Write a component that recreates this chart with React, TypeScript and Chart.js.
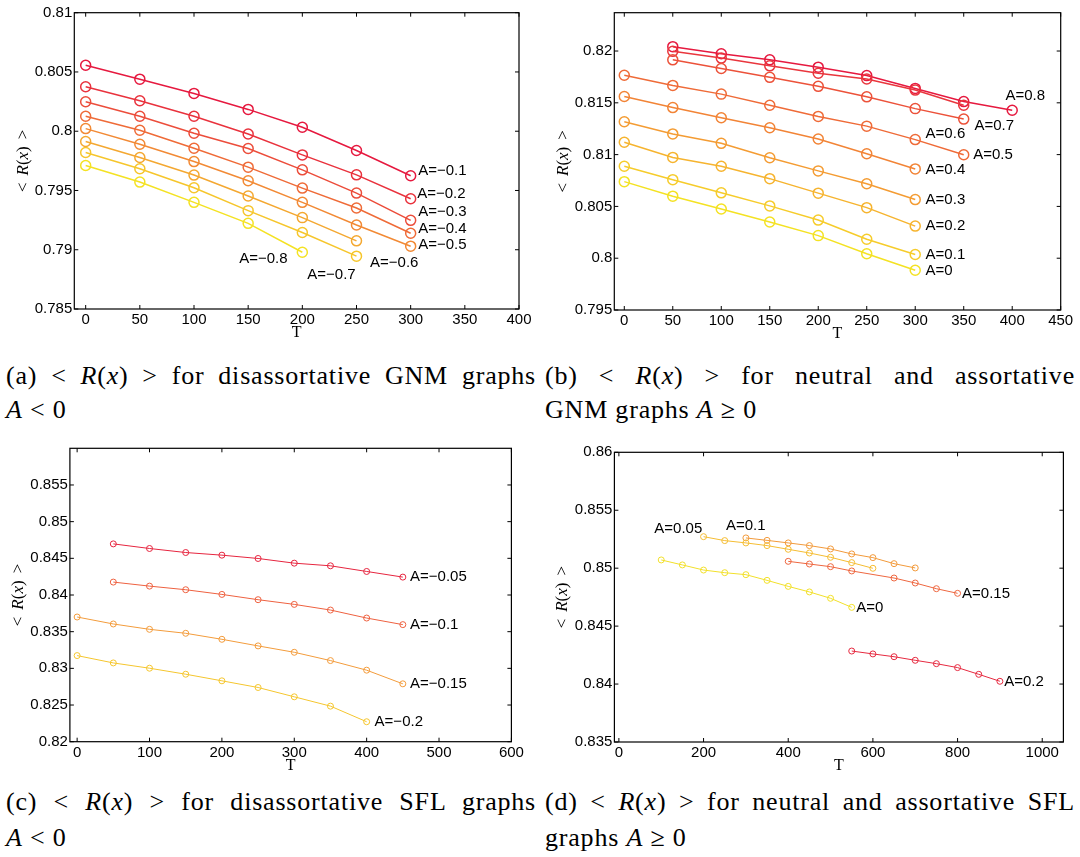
import React, { useEffect, useRef } from "react";
import { Chart, registerables } from "chart.js";

Chart.register(...registerables);

// ---------- (a) disassortative GNM graphs, A < 0 ----------
const gnmNegT7 = [0, 50, 100, 150, 200, 250, 300];
const gnmNegT6 = [0, 50, 100, 150, 200, 250];
const gnmNegT5 = [0, 50, 100, 150, 200];
const gnmNegA01 = [0.80557, 0.80439, 0.80319, 0.80184, 0.80033, 0.79837, 0.79624];
const gnmNegA02 = [0.80375, 0.80257, 0.80126, 0.79977, 0.798, 0.79632, 0.7943];
const gnmNegA03 = [0.80249, 0.80126, 0.79983, 0.79854, 0.79674, 0.79478, 0.79248];
const gnmNegA04 = [0.80126, 0.80008, 0.79856, 0.79697, 0.7952, 0.79352, 0.79139];
const gnmNegA05 = [0.80022, 0.7989, 0.79744, 0.79582, 0.794, 0.79209, 0.7903];
const gnmNegA06 = [0.79913, 0.79778, 0.7963, 0.79453, 0.79271, 0.79075];
const gnmNegA07 = [0.7982, 0.79683, 0.79523, 0.7933, 0.79145, 0.78946];
const gnmNegA08 = [0.79711, 0.79571, 0.794, 0.79223, 0.78979];
const gnmNegNoteText = ["A=−0.1", "A=−0.2", "A=−0.3", "A=−0.4", "A=−0.5", "A=−0.6", "A=−0.7", "A=−0.8"];
const gnmNegNoteT = [307, 306, 307, 307, 307, 262.5, 204.6, 141.7];
const gnmNegNoteR = [0.79669, 0.79475, 0.79318, 0.79173, 0.79038, 0.78892, 0.78791, 0.7892];
const gnmNegXTicks = [0, 50, 100, 150, 200, 250, 300, 350, 400];
const gnmNegYTicks = [0.785, 0.79, 0.795, 0.8, 0.805, 0.81];

// ---------- (b) neutral and assortative GNM graphs, A >= 0 ----------
const gnmPosT0 = [0, 50, 100, 150, 200, 250, 300];
const gnmPosT5 = [0, 50, 100, 150, 200, 250, 300, 350];
const gnmPosT67 = [50, 100, 150, 200, 250, 300, 350];
const gnmPosT8 = [50, 100, 150, 200, 250, 300, 350, 400];
const gnmPosA0 = [0.80739, 0.80599, 0.80475, 0.80349, 0.80218, 0.80043, 0.79884];
const gnmPosA1 = [0.80888, 0.80758, 0.80631, 0.80505, 0.80368, 0.80183, 0.80036];
const gnmPosA2 = [0.81119, 0.80973, 0.80888, 0.80768, 0.80628, 0.80488, 0.8031];
const gnmPosA3 = [0.81317, 0.812, 0.81109, 0.8097, 0.80843, 0.80719, 0.80566];
const gnmPosA4 = [0.81561, 0.81454, 0.81356, 0.81259, 0.81151, 0.81008, 0.80862];
const gnmPosA5 = [0.81766, 0.81668, 0.81584, 0.81477, 0.81369, 0.81275, 0.81145, 0.80999];
const gnmPosA6 = [0.81915, 0.81831, 0.81746, 0.81659, 0.81558, 0.81444, 0.81343];
const gnmPosA7 = [0.81997, 0.81932, 0.81857, 0.81785, 0.8173, 0.81623, 0.81477];
const gnmPosA8 = [0.82042, 0.81974, 0.81915, 0.81844, 0.81763, 0.81639, 0.81512, 0.81428];
const gnmPosNoteText = ["A=0.8", "A=0.7", "A=0.6", "A=0.5", "A=0.4", "A=0.3", "A=0.2", "A=0.1", "A=0"];
const gnmPosNoteT = [393, 361, 310.7, 359.7, 310.7, 310.7, 310.7, 310.7, 310.7];
const gnmPosNoteR = [0.81564, 0.81278, 0.81197, 0.80995, 0.80856, 0.80566, 0.8031, 0.80036, 0.7988];
const gnmPosXTicks = [0, 50, 100, 150, 200, 250, 300, 350, 400, 450];
const gnmPosYTicks = [0.795, 0.8, 0.805, 0.81, 0.815, 0.82];

// ---------- (c) disassortative SFL graphs, A < 0 ----------
const sflNegT9 = [50, 100, 150, 200, 250, 300, 350, 400, 450];
const sflNegT10 = [0, 50, 100, 150, 200, 250, 300, 350, 400, 450];
const sflNegT20 = [0, 50, 100, 150, 200, 250, 300, 350, 400];
const sflNegA005 = [0.84697, 0.84634, 0.84579, 0.84543, 0.84498, 0.84434, 0.84398, 0.84321, 0.84244];
const sflNegA010 = [0.84176, 0.84121, 0.84072, 0.84008, 0.83936, 0.83872, 0.83795, 0.83686, 0.83596];
const sflNegA015 = [0.837, 0.83605, 0.83532, 0.83478, 0.83396, 0.83306, 0.83219, 0.83106, 0.82975, 0.82789];
const sflNegA020 = [0.83174, 0.83074, 0.83002, 0.8292, 0.8283, 0.82739, 0.82612, 0.82485, 0.82272];
const sflNegNoteText = ["A=−0.05", "A=−0.1", "A=−0.15", "A=−0.2"];
const sflNegNoteT = [460, 460, 460, 411];
const sflNegNoteR = [0.84244, 0.83596, 0.82789, 0.82272];
const sflNegXTicks = [0, 100, 200, 300, 400, 500, 600];
const sflNegYTicks = [0.82, 0.825, 0.83, 0.835, 0.84, 0.845, 0.85, 0.855];

// ---------- (d) neutral and assortative SFL graphs, A >= 0 ----------
const sflPosT000 = [100, 150, 200, 250, 300, 350, 400, 450, 500, 550];
const sflPosT005 = [200, 250, 300, 350, 400, 450, 500, 550, 600];
const sflPosT010 = [300, 350, 400, 450, 500, 550, 600, 650, 700];
const sflPosT015 = [400, 450, 500, 550, 650, 700, 750, 800];
const sflPosT020 = [550, 600, 650, 700, 750, 800, 850, 900];
const sflPosA000 = [0.85071, 0.85028, 0.84984, 0.84961, 0.84944, 0.84895, 0.84843, 0.84795, 0.8474, 0.84662];
const sflPosA005 = [0.85272, 0.85238, 0.85218, 0.85195, 0.85163, 0.85131, 0.85094, 0.85048, 0.84999];
const sflPosA010 = [0.85261, 0.8524, 0.85218, 0.85195, 0.85166, 0.85123, 0.85091, 0.85039, 0.85002];
const sflPosA015 = [0.85059, 0.85036, 0.85013, 0.84976, 0.84915, 0.84872, 0.84823, 0.84783];
const sflPosA020 = [0.84285, 0.8426, 0.84236, 0.84205, 0.84176, 0.84142, 0.84084, 0.84024];
const sflPosNoteText = ["A=0.05", "A=0.1", "A=0.15", "A=0", "A=0.2"];
const sflPosNoteT = [83.7, 253, 810.6, 560.8, 910];
const sflPosNoteR = [0.85338, 0.85364, 0.8478, 0.84654, 0.84015];
const sflPosXTicks = [0, 200, 400, 600, 800, 1000];
const sflPosYTicks = [0.835, 0.84, 0.845, 0.85, 0.855, 0.86];

type Line = { t: number[]; r: number[]; color: string };
type PanelProps = {
  box: { left: number; top: number; width: number; height: number };
  area: { left: number; top: number; right: number; bottom: number };
  xRange: [number, number];
  yRange: [number, number];
  xTicks: number[];
  yTicks: number[];
  lines: Line[];
  noteText: string[];
  noteT: number[];
  noteR: number[];
  radius: number;
  lineWidth: number;
  yTitleX: number;
};

const SANS = '"Liberation Sans", Arial, sans-serif';
const SERIF = '"Liberation Serif", "Times New Roman", serif';
const fmt = (v: number) => String(+Number(v).toFixed(4));

function Panel(p: PanelProps) {
  const ref = useRef<HTMLCanvasElement>(null);

  useEffect(() => {
    const canvas = ref.current;
    if (!canvas) return;
    const { box, area } = p;

    const frame = {
      id: "frame",
      afterDraw(chart: any) {
        const { ctx, chartArea, scales } = chart;
        const { left, top, right, bottom } = chartArea;
        const xs = scales.x;
        const ys = scales.y;
        ctx.save();
        ctx.strokeStyle = "#000";
        ctx.lineWidth = 1.2;
        ctx.strokeRect(left, top, right - left, bottom - top);
        const tl = 4;
        ctx.beginPath();
        p.xTicks.forEach((v) => {
          const px = xs.getPixelForValue(v);
          ctx.moveTo(px, bottom);
          ctx.lineTo(px, bottom - tl);
          ctx.moveTo(px, top);
          ctx.lineTo(px, top + tl);
        });
        p.yTicks.forEach((v) => {
          const py = ys.getPixelForValue(v);
          ctx.moveTo(left, py);
          ctx.lineTo(left + tl, py);
          ctx.moveTo(right, py);
          ctx.lineTo(right - tl, py);
        });
        ctx.lineWidth = 1;
        ctx.stroke();

        // series annotations
        ctx.fillStyle = "#000";
        ctx.font = `15px ${SANS}`;
        ctx.textAlign = "left";
        ctx.textBaseline = "middle";
        p.noteText.forEach((txt, i) => {
          ctx.fillText(txt, xs.getPixelForValue(p.noteT[i]), ys.getPixelForValue(p.noteR[i]));
        });

        // x-axis title
        ctx.font = `16px ${SERIF}`;
        ctx.textAlign = "center";
        ctx.textBaseline = "top";
        ctx.fillText("T", (left + right) / 2, bottom + 16);

        // y-axis title: < R(x) >
        const parts: [string, boolean, number][] = [
          ["<", false, 7],
          ["R", true, 0],
          ["(", false, 0],
          ["x", true, 0],
          [")", false, 7],
          [">", false, 0],
        ];
        ctx.translate(p.yTitleX, (top + bottom) / 2);
        ctx.rotate(-Math.PI / 2);
        const fontFor = (it: boolean) => `${it ? "italic " : ""}17px ${SERIF}`;
        let total = 0;
        parts.forEach(([s, it, gap]) => {
          ctx.font = fontFor(it);
          total += ctx.measureText(s).width + gap;
        });
        let cx = -total / 2;
        ctx.textAlign = "left";
        ctx.textBaseline = "middle";
        parts.forEach(([s, it, gap]) => {
          ctx.font = fontFor(it);
          ctx.fillText(s, cx, 0);
          cx += ctx.measureText(s).width + gap;
        });
        ctx.restore();
      },
    };

    const tickFont = { family: SANS, size: 15 };

    const chart = new Chart(canvas, {
      type: "line",
      data: {
        datasets: p.lines.map((l) => ({
          data: l.t.map((t, i) => ({ x: t, y: l.r[i] })),
          borderColor: l.color,
          borderWidth: p.lineWidth,
          pointRadius: p.radius,
          pointHoverRadius: p.radius,
          pointBorderColor: l.color,
          pointBorderWidth: p.lineWidth,
          pointBackgroundColor: "rgba(0,0,0,0)",
          tension: 0,
          fill: false,
        })),
      },
      options: {
        responsive: false,
        animation: false,
        events: [],
        layout: {
          padding: { left: 0, top: area.top, right: box.width - area.right, bottom: 0 },
        },
        plugins: { legend: { display: false }, tooltip: { enabled: false } },
        scales: {
          x: {
            type: "linear",
            min: p.xRange[0],
            max: p.xRange[1],
            grid: { display: false, drawTicks: false },
            border: { display: false },
            ticks: {
              padding: 2,
              font: tickFont,
              color: "#000",
              autoSkip: false,
              maxRotation: 0,
              callback: (v: any) => fmt(v),
            },
            afterBuildTicks: (s: any) => {
              s.ticks = p.xTicks.map((value) => ({ value }));
            },
            afterFit: (s: any) => {
              s.height = box.height - area.bottom;
            },
          },
          y: {
            type: "linear",
            min: p.yRange[0],
            max: p.yRange[1],
            grid: { display: false, drawTicks: false },
            border: { display: false },
            ticks: {
              padding: 2,
              font: tickFont,
              color: "#000",
              autoSkip: false,
              callback: (v: any) => fmt(v),
            },
            afterBuildTicks: (s: any) => {
              s.ticks = p.yTicks.map((value) => ({ value }));
            },
            afterFit: (s: any) => {
              s.width = area.left;
            },
          },
        },
      },
      plugins: [frame],
    } as any);

    return () => chart.destroy();
  }, []);

  return (
    <canvas
      ref={ref}
      width={p.box.width}
      height={p.box.height}
      style={{ position: "absolute", left: p.box.left, top: p.box.top }}
    />
  );
}

const captionFont: React.CSSProperties = {
  position: "absolute",
  fontFamily: SERIF,
  fontSize: 26,
  letterSpacing: "0.8px",
  lineHeight: "30px",
  color: "#000",
  whiteSpace: "nowrap",
};

function Caption(props: { left: number; center1: number; center2: number; first: React.ReactNode; second: React.ReactNode }) {
  return (
    <>
      <div
        style={{
          ...captionFont,
          left: props.left,
          top: props.center1 - 15,
          width: 530,
          whiteSpace: "normal",
          textAlign: "justify",
          textAlignLast: "justify",
        }}
      >
        {props.first}
      </div>
      <div style={{ ...captionFont, left: props.left, top: props.center2 - 15 }}>{props.second}</div>
    </>
  );
}

const Rx = () => (
  <>
    &lt; <i>R</i>(<i>x</i>) &gt;
  </>
);

export default function App() {
  const panelA: PanelProps = {
    box: { left: 0, top: 0, width: 540, height: 345 },
    area: { left: 74.3, top: 12.7, right: 519, bottom: 309 },
    xRange: [-10.5, 400],
    yRange: [0.785, 0.81],
    xTicks: gnmNegXTicks,
    yTicks: gnmNegYTicks,
    lines: [
      { t: gnmNegT7, r: gnmNegA01, color: "#e6193f" },
      { t: gnmNegT7, r: gnmNegA02, color: "#e9323d" },
      { t: gnmNegT7, r: gnmNegA03, color: "#ec4d3b" },
      { t: gnmNegT7, r: gnmNegA04, color: "#ef6b38" },
      { t: gnmNegT7, r: gnmNegA05, color: "#f28a35" },
      { t: gnmNegT6, r: gnmNegA06, color: "#f4a831" },
      { t: gnmNegT6, r: gnmNegA07, color: "#f6c62c" },
      { t: gnmNegT5, r: gnmNegA08, color: "#f4e223" },
    ],
    noteText: gnmNegNoteText,
    noteT: gnmNegNoteT,
    noteR: gnmNegNoteR,
    radius: 5,
    lineWidth: 1.5,
    yTitleX: 24,
  };

  const panelB: PanelProps = {
    box: { left: 540, top: 0, width: 540, height: 345 },
    area: { left: 74.3, top: 12.7, right: 520.7, bottom: 310 },
    xRange: [-10.3, 450],
    yRange: [0.795, 0.8237],
    xTicks: gnmPosXTicks,
    yTicks: gnmPosYTicks,
    lines: [
      { t: gnmPosT0, r: gnmPosA0, color: "#f4e223" },
      { t: gnmPosT0, r: gnmPosA1, color: "#f6cc2b" },
      { t: gnmPosT0, r: gnmPosA2, color: "#f6b42f" },
      { t: gnmPosT0, r: gnmPosA3, color: "#f49c33" },
      { t: gnmPosT0, r: gnmPosA4, color: "#f28436" },
      { t: gnmPosT5, r: gnmPosA5, color: "#ef6b38" },
      { t: gnmPosT67, r: gnmPosA6, color: "#ec523a" },
      { t: gnmPosT67, r: gnmPosA7, color: "#e9363d" },
      { t: gnmPosT8, r: gnmPosA8, color: "#e6193f" },
    ],
    noteText: gnmPosNoteText,
    noteT: gnmPosNoteT,
    noteR: gnmPosNoteR,
    radius: 5,
    lineWidth: 1.5,
    yTitleX: 24,
  };

  const panelC: PanelProps = {
    box: { left: 0, top: 430, width: 540, height: 345 },
    area: { left: 69.9, top: 18.3, right: 511.4, bottom: 311.7 },
    xRange: [-10, 600],
    yRange: [0.82, 0.86],
    xTicks: sflNegXTicks,
    yTicks: sflNegYTicks,
    lines: [
      { t: sflNegT9, r: sflNegA005, color: "#e6253f" },
      { t: sflNegT9, r: sflNegA010, color: "#ee6140" },
      { t: sflNegT10, r: sflNegA015, color: "#f39c3c" },
      { t: sflNegT20, r: sflNegA020, color: "#f5c62e" },
    ],
    noteText: sflNegNoteText,
    noteT: sflNegNoteT,
    noteR: sflNegNoteR,
    radius: 3,
    lineWidth: 1,
    yTitleX: 19,
  };

  const panelD: PanelProps = {
    box: { left: 540, top: 430, width: 540, height: 345 },
    area: { left: 74.4, top: 22.3, right: 523.4, bottom: 312 },
    xRange: [-10.6, 1050],
    yRange: [0.835, 0.86],
    xTicks: sflPosXTicks,
    yTicks: sflPosYTicks,
    lines: [
      { t: sflPosT000, r: sflPosA000, color: "#f2e02a" },
      { t: sflPosT005, r: sflPosA005, color: "#f5bd33" },
      { t: sflPosT010, r: sflPosA010, color: "#f29a3b" },
      { t: sflPosT015, r: sflPosA015, color: "#ee6740" },
      { t: sflPosT020, r: sflPosA020, color: "#e62a40" },
    ],
    noteText: sflPosNoteText,
    noteT: sflPosNoteT,
    noteR: sflPosNoteR,
    radius: 3,
    lineWidth: 1,
    yTitleX: 22.4,
  };

  return (
    <div style={{ position: "absolute", left: 0, top: 0, width: 1080, height: 857, background: "#fff", overflow: "hidden" }}>
      <Panel {...panelA} />
      <Panel {...panelB} />
      <Panel {...panelC} />
      <Panel {...panelD} />
      <Caption
        left={6}
        center1={376}
        center2={410}
        first={<>(a) <Rx /> for disassortative GNM graphs</>}
        second={<><i>A</i> &lt; 0</>}
      />
      <Caption
        left={545}
        center1={376}
        center2={410}
        first={<>(b) <Rx /> for neutral and assortative</>}
        second={<>GNM graphs <i>A</i> ≥ 0</>}
      />
      <Caption
        left={6}
        center1={802}
        center2={838}
        first={<>(c) <Rx /> for disassortative SFL graphs</>}
        second={<><i>A</i> &lt; 0</>}
      />
      <Caption
        left={545}
        center1={802}
        center2={838}
        first={<>(d) <Rx /> for neutral and assortative SFL</>}
        second={<>graphs <i>A</i> ≥ 0</>}
      />
    </div>
  );
}
